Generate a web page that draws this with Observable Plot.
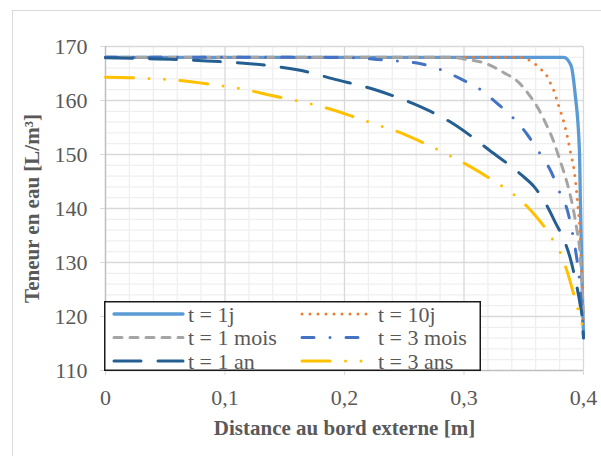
<!DOCTYPE html>
<html><head><meta charset="utf-8">
<script src="https://cdn.jsdelivr.net/npm/d3@7"></script>
<script src="https://cdn.jsdelivr.net/npm/@observablehq/plot@0.6"></script>
<style>
html,body{margin:0;padding:0;background:#fff;overflow:hidden;}
#wrap{position:relative;width:601px;height:456px;overflow:hidden;background:#fff;}
#frame{position:absolute;left:12px;top:10px;width:640px;height:500px;border:1.5px solid #d9d9d9;box-sizing:border-box;}
#chart{position:absolute;left:0;top:0;}
#legend{position:absolute;left:104px;top:301px;}
</style></head><body>
<div id="wrap"><div id="frame"></div><div id="chart"></div><svg id="legend" width="378" height="71"></svg></div>
<script>
// ---- data ----
const seriesNames = ["t = 1j", "t = 10j", "t = 1 mois", "t = 3 mois", "t = 1 an", "t = 3 ans"];

const x1j = [0, 0.3835, 0.3895, 0.393, 0.3966, 0.3975, 0.3985, 0.3993, 0.4];
const y1j = [168, 168, 166.5, 161.2, 150.7, 140, 130, 122, 116.5];

const x10j = [0, 0.345, 0.3532, 0.3593, 0.3643, 0.369, 0.3721, 0.3749, 0.3791, 0.3833, 0.3867, 0.3894, 0.3922, 0.395, 0.3972, 0.3985, 0.3995, 0.4];
const y10j = [168, 168, 167.6, 166.8, 165.8, 164.7, 163.3, 162, 159.1, 156.2, 153.1, 150.1, 147, 141.2, 135, 128, 121, 118];

const x1mois = [0, 0.29, 0.2994, 0.319, 0.333, 0.3455, 0.355, 0.3622, 0.3692, 0.3747, 0.379, 0.3835, 0.388, 0.3915, 0.3945, 0.397, 0.3985, 0.4];
const y1mois = [168, 168, 167.7, 166.8, 165.2, 163.4, 160.9, 158.5, 155.4, 152.6, 149.8, 146.8, 143.3, 139.8, 136, 132, 127, 119.5];

const x3mois = [0, 0.18, 0.1912, 0.2094, 0.2275, 0.2456, 0.2638, 0.2806, 0.2973, 0.314, 0.3275, 0.3406, 0.3526, 0.3629, 0.3727, 0.3797, 0.3867, 0.3908, 0.394, 0.3964, 0.398, 0.4];
const y3mois = [168, 168, 167.95, 167.9, 167.6, 167.3, 166.8, 165.7, 164, 162, 159.5, 156.9, 153.8, 150.4, 146.9, 143.2, 139.5, 135.4, 131.3, 127.3, 122.5, 117.5];

const x1an = [0, 0.0233, 0.0596, 0.0958, 0.135, 0.1628, 0.1906, 0.227, 0.2576, 0.291, 0.3218, 0.3476, 0.3588, 0.3692, 0.3769, 0.3833, 0.3894, 0.3935, 0.397, 0.3992, 0.4];
const y1an = [167.9, 167.8, 167.6, 167.2, 166.5, 165.6, 164, 161.9, 159.4, 155.7, 150.7, 146.3, 144, 140.6, 137.2, 134.4, 130.4, 126.5, 122.5, 119, 116];

const x3ans = [0, 0.0233, 0.0623, 0.0847, 0.1125, 0.146, 0.16, 0.185, 0.2074, 0.231, 0.2436, 0.2646, 0.288, 0.3008, 0.32, 0.3427, 0.3518, 0.36, 0.3685, 0.3749, 0.3816, 0.3861, 0.3936, 0.3964, 0.4];
const y3ans = [164.3, 164.2, 163.7, 163.1, 162.2, 160.6, 160, 158.6, 157, 155.2, 154.3, 152.3, 149.8, 148.3, 145.8, 142.4, 140.6, 138.6, 136.2, 134, 131.3, 128.5, 122.7, 120.5, 117.5];

const xTicks = [0, 0.1, 0.2, 0.3, 0.4];
const yTicks = [110, 120, 130, 140, 150, 160, 170];
const xMinor = [0.02, 0.04, 0.06, 0.08, 0.12, 0.14, 0.16, 0.18, 0.22, 0.24, 0.26, 0.28, 0.32, 0.34, 0.36, 0.38];
const yMinor = [112, 114, 116, 118, 122, 124, 126, 128, 132, 134, 136, 138, 142, 144, 146, 148, 152, 154, 156, 158, 162, 164, 166, 168];

const xTitle = "Distance au bord externe [m]";
const yTitle = "Teneur en eau [L/m³]";

// ---- styles ----
const colors = ["#5B9BD5", "#ED7D31", "#A5A5A5", "#4472C4", "#255E91", "#FFC000"];
const dashes = [null, "0,8", "8,8", "12,16,0,16", "27,17", "28,15.5,0,15.5,0,15.5"];
const widths = [3.3, 3, 3, 3, 3, 3];
const seriesX = [x1j, x10j, x1mois, x3mois, x1an, x3ans];
const seriesY = [y1j, y10j, y1mois, y3mois, y1an, y3ans];

const FONT = '"Liberation Serif", "Times New Roman", serif';
const TXT = "#595959";

const lineMarks = seriesX.map((xs, i) => Plot.line(xs, {
  x: xs, y: seriesY[i], stroke: colors[i], strokeWidth: widths[i],
  strokeDasharray: dashes[i] || undefined, strokeLinecap: "round", strokeLinejoin: "round",
  curve: "monotone-x"
}));

const chart = Plot.plot({
  width: 601, height: 456,
  marginLeft: 105, marginRight: 18, marginTop: 46, marginBottom: 86,
  style: {fontFamily: FONT, fontSize: "22px", color: TXT, background: "transparent", overflow: "visible"},
  x: {domain: [0, 0.4]},
  y: {domain: [110, 170]},
  marks: [
    Plot.ruleX(xMinor, {stroke: "#efefef", strokeWidth: 1.3}),
    Plot.ruleY(yMinor, {stroke: "#efefef", strokeWidth: 1.3}),
    Plot.ruleX(xTicks.slice(1), {stroke: "#d9d9d9", strokeWidth: 1.3}),
    Plot.ruleY(yTicks.slice(1), {stroke: "#d9d9d9", strokeWidth: 1.3}),
    Plot.ruleX([0], {stroke: "#bfbfbf", strokeWidth: 1.5}),
    Plot.ruleY([110], {stroke: "#bfbfbf", strokeWidth: 1.5}),
    Plot.axisY({ticks: yTicks, tickSize: 5, tickPadding: 13, stroke: "#d9d9d9", fill: TXT, label: null, fontSize: 22}),
    Plot.axisX({ticks: xTicks, tickSize: 5, tickPadding: 14, stroke: "#d9d9d9", fill: TXT, label: null, fontSize: 22,
      tickFormat: d => String(d).replace(".", ",")}),
    ...lineMarks,
    Plot.text([xTitle], {text: d => d, frameAnchor: "bottom", textAnchor: "middle", dy: 64, fontWeight: "bold", fontSize: 21, fill: TXT}),
    Plot.text([yTitle], {text: d => d, frameAnchor: "left", textAnchor: "middle", rotate: -90, dx: -73.5, fontWeight: "bold", fontSize: 21, fill: TXT})
  ]
});
document.getElementById("chart").appendChild(chart);

// ---- legend ----
const leg = d3.select("#legend");
leg.append("rect").attr("x", 0.75).attr("y", 0.75).attr("width", 375.5).attr("height", 68.5)
  .attr("fill", "#fff").attr("stroke", "#1a1a1a").attr("stroke-width", 1.5);
const rowsY = [13, 36.5, 60];
const colX = [[10, 79, 84], [198, 268, 274]];
seriesNames.forEach((name, i) => {
  const r = Math.floor(i / 2), c = i % 2;
  const [x1, x2, tx] = colX[c];
  const ln = leg.append("line").attr("x1", x1).attr("x2", x2).attr("y1", rowsY[r]).attr("y2", rowsY[r])
    .attr("stroke", colors[i]).attr("stroke-width", widths[i]).attr("stroke-linecap", "round");
  if (dashes[i]) ln.attr("stroke-dasharray", dashes[i]);
  leg.append("text").attr("x", tx).attr("y", rowsY[r] + 7.5).attr("fill", TXT)
    .style("font-family", FONT).style("font-size", "22px").text(name);
});
</script>
</body></html>
